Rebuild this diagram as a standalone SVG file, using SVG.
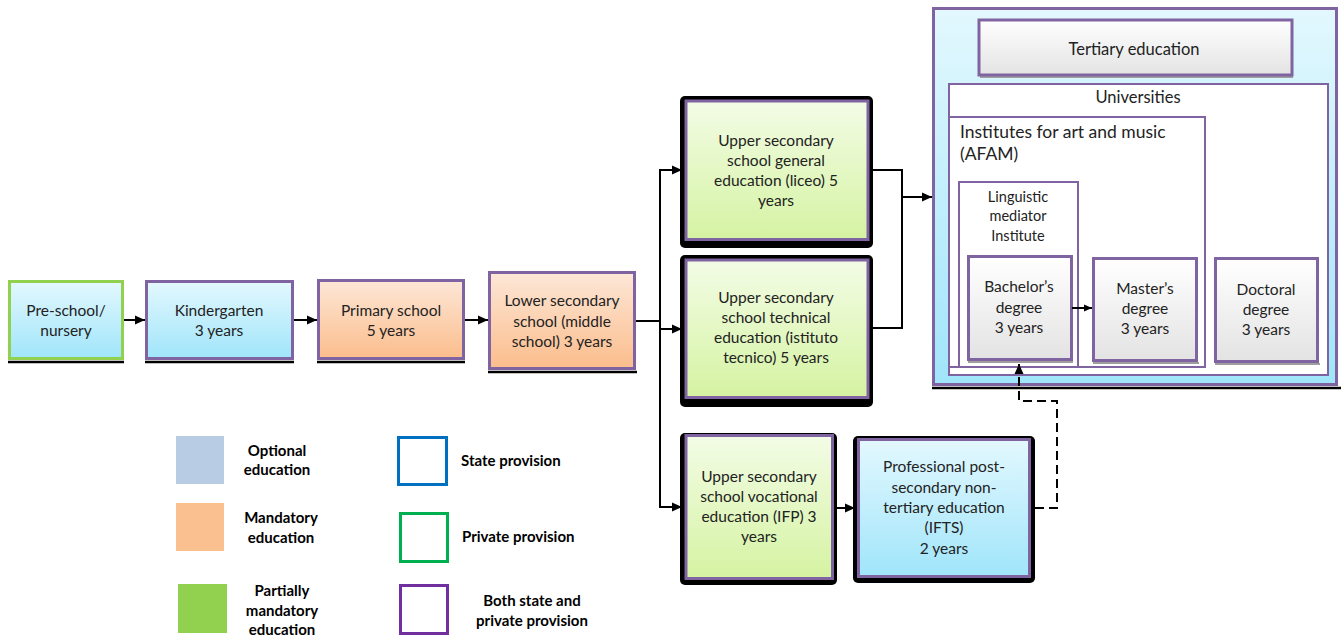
<svg xmlns="http://www.w3.org/2000/svg" width="1341" height="639" viewBox="0 0 1341 639">
  <defs>
    <linearGradient id="gBlue" x1="0" y1="0" x2="0" y2="1">
      <stop offset="0" stop-color="#E3F8FE"/>
      <stop offset="1" stop-color="#A0E5FA"/>
    </linearGradient>
    <linearGradient id="gOrange" x1="0" y1="0" x2="0" y2="1">
      <stop offset="0" stop-color="#FDE7D7"/>
      <stop offset="1" stop-color="#FBBD8C"/>
    </linearGradient>
    <linearGradient id="gGreen" x1="0" y1="0" x2="0" y2="1">
      <stop offset="0" stop-color="#F3FCE6"/>
      <stop offset="1" stop-color="#D5F3A2"/>
    </linearGradient>
    <linearGradient id="gGrey" x1="0" y1="0" x2="0" y2="1">
      <stop offset="0" stop-color="#FFFFFF"/>
      <stop offset="1" stop-color="#E3E3E3"/>
    </linearGradient>
    <marker id="arr" markerUnits="userSpaceOnUse" markerWidth="10" markerHeight="10" viewBox="0 0 10 10" refX="10" refY="5" orient="auto">
      <path d="M0,0.5 L10,5 L0,9.5 Z" fill="#000"/>
    </marker>
    <marker id="arrS" markerUnits="userSpaceOnUse" markerWidth="8" markerHeight="8" viewBox="0 0 10 10" refX="10" refY="5" orient="auto">
      <path d="M0,0.5 L10,5 L0,9.5 Z" fill="#000"/>
    </marker>
  </defs>
  <style>
    text { font-family: Lato, "Liberation Sans", sans-serif; font-size: 15.5px; fill: #222; }
    .c { text-anchor: middle; }
    .big { font-size: 16.5px; }
    .afam { font-size: 17.5px; }
    .ling { font-size: 14.5px; }
    .box { stroke: #8064A2; stroke-width: 3; }
    .thin { stroke: #8064A2; stroke-width: 2; fill: #FFFFFF; }
    .frame { fill: #000; }
    .shadow { stroke: #000; stroke-width: 2.5; }
    .conn { fill: none; stroke: #000; stroke-width: 2; }
    .leg { font-weight: bold; font-size: 15px; fill: #000; }
  </style>

  <rect width="1341" height="639" fill="#FFFFFF"/>

  <!-- tertiary container -->
  <g id="tertiary">
    <line x1="932" y1="388" x2="1341" y2="388" class="shadow"/>
    <rect x="933.5" y="8.5" width="403" height="376" fill="url(#gBlue)" class="box"/>
  </g>
  <g id="tertiary-title">
    <line x1="980" y1="77" x2="1293" y2="77" stroke="#9E9E9E" stroke-width="2"/>
    <rect x="979" y="20" width="313" height="55" fill="url(#gGrey)" class="box"/>
    <text x="1134" y="55" class="c big">Tertiary education</text>
  </g>
  <g id="universities">
    <rect x="949" y="84" width="379" height="291" class="thin"/>
    <text x="1138" y="103" class="c big">Universities</text>
  </g>
  <g id="afam">
    <rect x="949" y="117" width="256" height="250" class="thin"/>
    <text x="960" y="138" class="afam">Institutes for art and music</text>
    <text x="960" y="160" class="afam">(AFAM)</text>
  </g>
  <g id="linguistic">
    <rect x="959" y="182" width="119" height="185" class="thin"/>
    <text x="1018" y="202" class="c ling">Linguistic</text>
    <text x="1018" y="221" class="c ling">mediator</text>
    <text x="1018" y="241" class="c ling">Institute</text>
  </g>
  <g id="bachelor">
    <line x1="968" y1="362" x2="1073" y2="362" stroke="#9E9E9E" stroke-width="2"/>
    <rect x="968.5" y="256.5" width="103" height="103" fill="url(#gGrey)" class="box"/>
    <text x="1019" y="292" class="c">Bachelor’s</text>
    <text x="1019" y="313" class="c">degree</text>
    <text x="1019" y="333" class="c">3 years</text>
  </g>
  <g id="master">
    <line x1="1093" y1="363" x2="1199" y2="363" stroke="#9E9E9E" stroke-width="2"/>
    <rect x="1093.5" y="258.5" width="103" height="102" fill="url(#gGrey)" class="box"/>
    <text x="1145" y="294" class="c">Master’s</text>
    <text x="1145" y="314" class="c">degree</text>
    <text x="1145" y="334" class="c">3 years</text>
  </g>
  <g id="doctoral">
    <line x1="1215" y1="364" x2="1320" y2="364" stroke="#9E9E9E" stroke-width="2"/>
    <rect x="1215.5" y="258.5" width="102" height="103" fill="url(#gGrey)" class="box"/>
    <text x="1266" y="295" class="c">Doctoral</text>
    <text x="1266" y="315" class="c">degree</text>
    <text x="1266" y="335" class="c">3 years</text>
  </g>

  <!-- early years and compulsory schooling -->
  <g id="preschool">
    <line x1="8" y1="362" x2="124" y2="362" class="shadow"/>
    <rect x="9.5" y="281.5" width="113" height="77" fill="url(#gBlue)" stroke="#92D050" stroke-width="3"/>
    <text x="66" y="316" class="c">Pre-school/</text>
    <text x="66" y="336" class="c">nursery</text>
  </g>
  <g id="kindergarten">
    <line x1="145" y1="362" x2="294" y2="362" class="shadow"/>
    <rect x="146.5" y="281.5" width="146" height="77" fill="url(#gBlue)" class="box"/>
    <text x="219" y="316" class="c">Kindergarten</text>
    <text x="219" y="336" class="c">3 years</text>
  </g>
  <g id="primary">
    <line x1="317" y1="362" x2="465" y2="362" class="shadow"/>
    <rect x="318.5" y="280.5" width="145" height="78" fill="url(#gOrange)" class="box"/>
    <text x="391" y="316" class="c">Primary school</text>
    <text x="391" y="336" class="c">5 years</text>
  </g>
  <g id="lower-secondary">
    <line x1="488" y1="372" x2="637" y2="372" class="shadow"/>
    <rect x="489.5" y="272.5" width="145" height="96" fill="url(#gOrange)" class="box"/>
    <text x="562" y="306" class="c">Lower secondary</text>
    <text x="562" y="327" class="c">school (middle</text>
    <text x="562" y="347" class="c">school) 3 years</text>
  </g>

  <!-- upper secondary and post-secondary -->
  <g id="upper-general">
    <rect x="680" y="96" width="193" height="152" rx="5" class="frame"/>
    <rect x="686" y="101" width="182" height="138.5" fill="url(#gGreen)" class="box"/>
    <text x="776" y="146" class="c">Upper secondary</text>
    <text x="776" y="166" class="c">school general</text>
    <text x="776" y="186" class="c">education (liceo) 5</text>
    <text x="776" y="206" class="c">years</text>
  </g>
  <g id="upper-technical">
    <rect x="680" y="255" width="193" height="152" rx="5" class="frame"/>
    <rect x="686" y="260" width="182" height="137.5" fill="url(#gGreen)" class="box"/>
    <text x="776" y="303" class="c">Upper secondary</text>
    <text x="776" y="323" class="c">school technical</text>
    <text x="776" y="343" class="c">education (istituto</text>
    <text x="776" y="363" class="c">tecnico) 5 years</text>
  </g>
  <g id="upper-vocational">
    <rect x="680" y="433" width="157" height="152" rx="5" class="frame"/>
    <rect x="686" y="435.5" width="146.5" height="143" fill="url(#gGreen)" class="box"/>
    <text x="759" y="482" class="c">Upper secondary</text>
    <text x="759" y="502" class="c">school vocational</text>
    <text x="759" y="522" class="c">education (IFP) 3</text>
    <text x="759" y="542" class="c">years</text>
  </g>
  <g id="ifts">
    <rect x="853" y="436" width="182" height="147" rx="5" class="frame"/>
    <rect x="858.5" y="439.5" width="171" height="137" fill="url(#gBlue)" class="box"/>
    <text x="944" y="472" class="c">Professional post-</text>
    <text x="944" y="493" class="c">secondary non-</text>
    <text x="944" y="513" class="c">tertiary education</text>
    <text x="944" y="533" class="c">(IFTS)</text>
    <text x="944" y="554" class="c">2 years</text>
  </g>

  <!-- connectors -->
  <g id="connectors">
    <line x1="124" y1="320" x2="145" y2="320" class="conn" marker-end="url(#arr)"/>
    <line x1="294" y1="320" x2="317" y2="320" class="conn" marker-end="url(#arr)"/>
    <line x1="465" y1="320" x2="488" y2="320" class="conn" marker-end="url(#arr)"/>
    <polyline points="636,321 660,321" class="conn"/>
    <line x1="660" y1="169" x2="660" y2="508" class="conn"/>
    <line x1="659" y1="170" x2="682" y2="170" class="conn" marker-end="url(#arr)"/>
    <line x1="660" y1="329" x2="682" y2="329" class="conn" marker-end="url(#arr)"/>
    <line x1="659" y1="507" x2="682" y2="507" class="conn" marker-end="url(#arr)"/>
    <polyline points="873,170 902,170 902,328 873,328" class="conn"/>
    <line x1="902" y1="197" x2="932" y2="197" class="conn" stroke-width="2.5" marker-end="url(#arr)"/>
    <line x1="837" y1="508" x2="855" y2="508" class="conn" stroke-width="3" marker-end="url(#arr)"/>
    <polyline points="1035,508 1057,508 1057,401 1019,401 1019,364" class="conn" stroke-width="2.5" stroke-dasharray="9,5" marker-end="url(#arr)"/>
    <line x1="1072" y1="308" x2="1092" y2="308" class="conn" stroke-width="1.5" marker-end="url(#arrS)"/>
  </g>

  <!-- key -->
  <g id="legend">
    <rect x="176" y="436" width="48" height="48" fill="#B8CCE4"/>
    <text x="277" y="456" class="c leg">Optional</text>
    <text x="277" y="475" class="c leg">education</text>
    <rect x="176" y="503" width="48" height="48" fill="#FAC090"/>
    <text x="281" y="523" class="c leg">Mandatory</text>
    <text x="281" y="543" class="c leg">education</text>
    <rect x="178" y="584" width="49" height="49" fill="#92D050"/>
    <text x="282" y="596" class="c leg">Partially</text>
    <text x="282" y="616" class="c leg">mandatory</text>
    <text x="282" y="635" class="c leg">education</text>
    <rect x="398.5" y="437.5" width="48" height="47" fill="#FFFFFF" stroke="#0070C0" stroke-width="3"/>
    <text x="461" y="466" class="leg">State provision</text>
    <rect x="400.5" y="513.5" width="47" height="48" fill="#FFFFFF" stroke="#00B050" stroke-width="3"/>
    <text x="462" y="542" class="leg">Private provision</text>
    <rect x="400.5" y="585.5" width="47" height="48" fill="#FFFFFF" stroke="#7030A0" stroke-width="3"/>
    <text x="532" y="606" class="c leg">Both state and</text>
    <text x="532" y="626" class="c leg">private provision</text>
  </g>
</svg>
